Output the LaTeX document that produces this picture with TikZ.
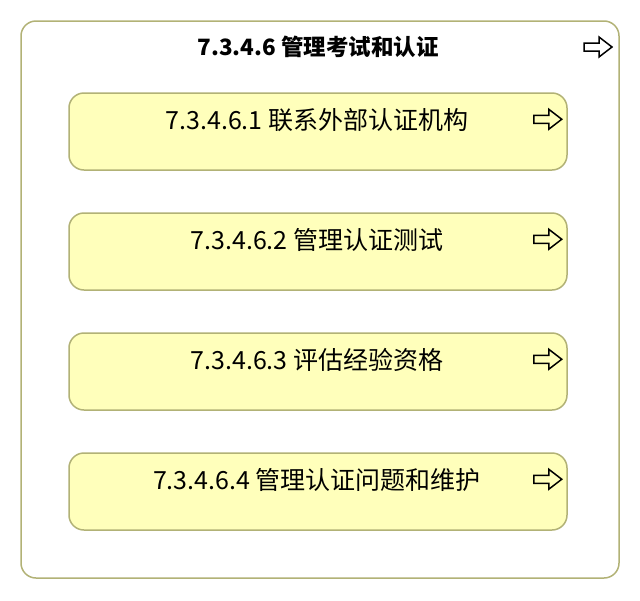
\documentclass[tikz,border=0pt]{standalone}
\usepackage{fontspec}
\setmainfont{Noto Sans CJK SC}
\usetikzlibrary{calc}
\definecolor{boxfill}{RGB}{255,255,187}
\definecolor{boxline}{RGB}{178,178,118}
\tikzset{
  groupbox/.style={draw=boxline,line width=1.5pt,fill=white,rounded corners=15pt,
    minimum width=598pt,minimum height=557pt,inner sep=0pt},
  taskbox/.style={draw=boxline,line width=1.5pt,fill=boxfill,rounded corners=15pt,
    minimum width=498pt,minimum height=77pt,inner sep=0pt},
  tasklabel/.style={font=\fontsize{25}{29}\selectfont,inner sep=0pt},
  grouplabel/.style={font=\bfseries\fontsize{22.5}{26}\selectfont,inner sep=0pt},
  openarrow/.pic={
    \draw[line width=1.5pt,line join=miter] (-14,-4) -- (1,-4) -- (1,-10) -- (14,0)
      -- (1,10) -- (1,4) -- (-14,4) -- cycle;}
}
\begin{document}
\begin{tikzpicture}[x=1pt,y=-1pt]
  \useasboundingbox (0,0) rectangle (640,600);
  % outer group
  \node[groupbox] (grp) at (320,299.5) {};
  \node[grouplabel] (grplabel) at (318,47) {7.3.4.6 管理考试和认证};
  \pic at (598,47) {openarrow};
  % the four tasks
  \foreach \i/\txt in {1/联系外部认证机构,2/管理认证测试,3/评估经验资格,4/管理认证问题和维护}{
    \node[taskbox] (task\i) at (318,11.5+120*\i) {};
    \node[tasklabel] (tasklabel\i) at ($(task\i.north)+(-1,28)$) {7.3.4.6.\i\ \txt};
    \pic at ($(task\i.north east)+(-20,27)$) {openarrow};
  }
\end{tikzpicture}
\end{document}
